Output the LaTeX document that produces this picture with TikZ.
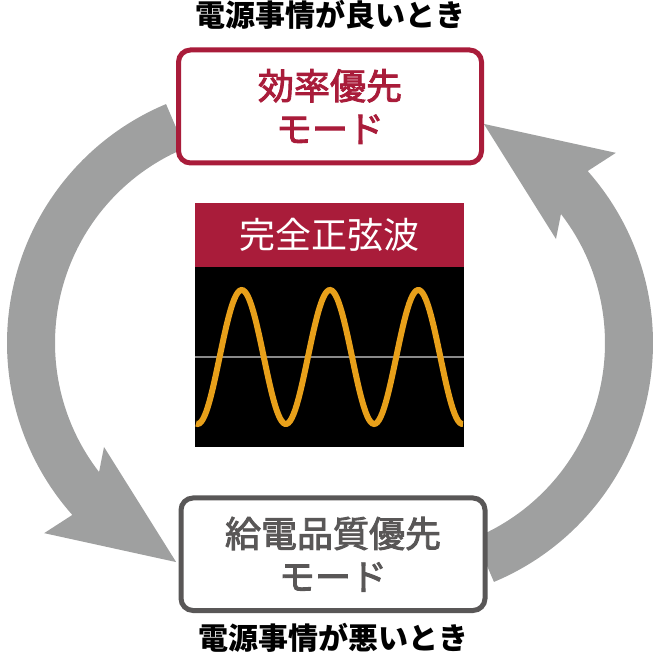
\documentclass[tikz,border=0pt]{standalone}
\usepackage{fontspec}
\setmainfont{Noto Sans CJK JP}
\newfontfamily\modefont{Noto Sans CJK JP}[FakeBold=2.5]
\usetikzlibrary{positioning}

\definecolor{modered}{HTML}{A91C3A}
\definecolor{modegray}{HTML}{595757}
\definecolor{arrowgray}{HTML}{9FA0A0}
\definecolor{axisgray}{HTML}{8A8A8A}
\definecolor{waveorange}{HTML}{E8A01A}

\begin{document}
\begin{tikzpicture}[x=1pt,y=1pt,
    mode/.style={draw,line width=5pt,rounded corners=12pt,fill=white,
                 minimum width=303pt,minimum height=113pt,align=center,
                 font=\modefont\fontsize{36}{43}\selectfont},
    cond/.style={inner sep=0pt,font=\fontsize{30}{30}\selectfont\bfseries},
    panel/.style={inner sep=0pt,outer sep=0pt,minimum width=269pt}]

  \useasboundingbox (0,0) rectangle (661,656);

  % circulating arrows
  \foreach \cx/\rot in {266/0, 394/180}
    \fill[arrowgray,shift={(\cx,313)},rotate=\rot]
      (112.7:259) arc[start angle=112.7,end angle=221.6,radius=259]
      -- (220.6:292.2) -- (247.7:236.8) -- (212.7:192.5)
      -- (217.7:211) arc[start angle=217.7,end angle=112.6,radius=211] -- cycle;

  \node[mode,draw=modered,text=modered] (eff) at (330,549.5) {効率優先\\モード};
  \node[mode,draw=modegray,text=modegray,minimum width=304pt,
        minimum height=112.5pt] (qual) at (333,101.75) {給電品質優先\\モード};
  \node[cond,above=18pt of eff] (good) {電源事情が良いとき};
  \node[cond,below=10pt of qual] (bad) {電源事情が悪いとき};

  % sine wave panel
  \node[panel,fill=modered,text=white,minimum height=63.4pt,
        font=\fontsize{36}{40}\selectfont] (title) at (329.5,421) {完全正弦波};
  \node[panel,fill=black,minimum height=180pt,below=0pt of title] (osc) {};
  \draw[axisgray,line width=2pt] (osc.west) -- (osc.east);
  \begin{scope}
    \clip (osc.south west) rectangle (osc.north east);
    \draw[waveorange,line width=6pt] plot[domain=196:463,samples=160]
      (\x,{299+67*cos(4.077*(\x-241.7))});
  \end{scope}
\end{tikzpicture}
\end{document}
